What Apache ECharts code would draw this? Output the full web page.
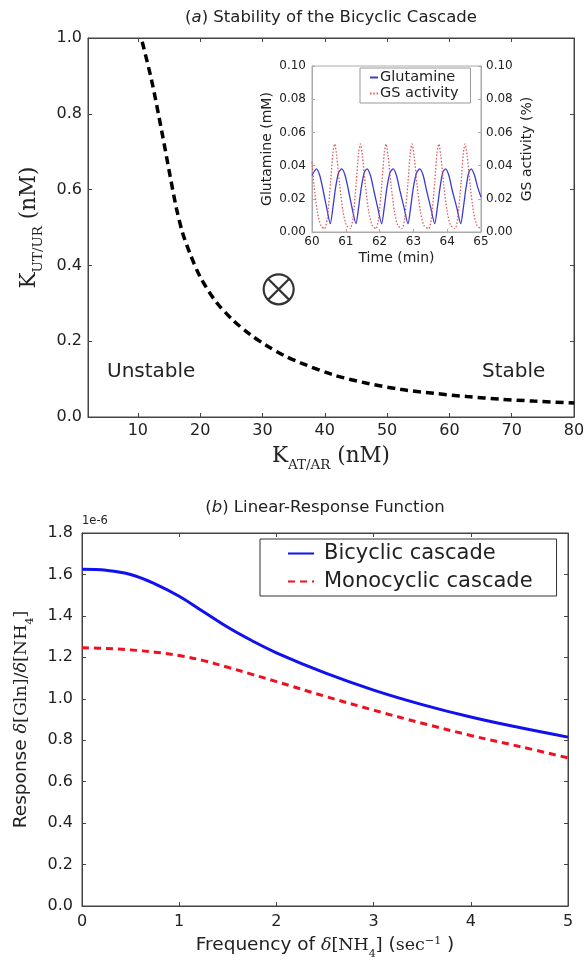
<!DOCTYPE html>
<html>
<head>
<meta charset="utf-8">
<script src="https://cdn.jsdelivr.net/npm/echarts@6/dist/echarts.min.js"></script>
<style>
  html, body { margin: 0; padding: 0; background: #fff; }
  #main { width: 588px; height: 965px; }
</style>
</head>
<body>
<div id="main"></div>
<script>
// (a) stability boundary
const kAT = [10.7, 12.2, 13.8, 15.2, 16.2, 17.2, 18.4, 20.0, 22.5, 25.3, 28.0, 30.7, 33.5, 36.1, 41.4, 46.8, 52.1, 57.5, 62.8, 68.2, 73.5, 80.0]
const kUT = [0.99, 0.889, 0.757, 0.634, 0.55, 0.485, 0.43, 0.37, 0.305, 0.255, 0.218, 0.188, 0.162, 0.143, 0.111, 0.089, 0.073, 0.0625, 0.054, 0.047, 0.042, 0.037]
const markPoint = [32.6, 0.337]
const kATTicks = [10, 20, 30, 40, 50, 60, 70, 80]

// inset: oscillations
const glnTime = [60.00, 60.13, 60.23, 60.33, 60.43, 60.54, 60.62, 60.70, 60.79, 60.88,
  60.98, 61.08, 61.18, 61.30, 61.38, 61.46, 61.55, 61.63,
  61.73, 61.83, 61.94, 62.06, 62.14, 62.22, 62.31, 62.40,
  62.50, 62.60, 62.72, 62.84, 62.92, 63.00, 63.10, 63.19,
  63.29, 63.39, 63.51, 63.63, 63.71, 63.79, 63.87, 63.95,
  64.05, 64.15, 64.28, 64.40, 64.48, 64.56, 64.64, 64.71,
  64.81, 64.90, 65.00]
const glnValue = [0.034, 0.038, 0.034, 0.025, 0.015, 0.005, 0.015, 0.027, 0.036, 0.038,
  0.034, 0.025, 0.015, 0.005, 0.015, 0.027, 0.036, 0.038,
  0.034, 0.025, 0.015, 0.005, 0.015, 0.027, 0.036, 0.038,
  0.034, 0.025, 0.015, 0.005, 0.015, 0.027, 0.036, 0.038,
  0.034, 0.025, 0.015, 0.005, 0.015, 0.027, 0.036, 0.038,
  0.034, 0.025, 0.015, 0.005, 0.015, 0.027, 0.036, 0.038,
  0.034, 0.027, 0.021]
const gsTime = [60.00, 60.06, 60.16, 60.26,
  60.37, 60.45, 60.55, 60.62, 60.67, 60.73, 60.82, 60.92, 61.02,
  61.13, 61.21, 61.31, 61.38, 61.43, 61.49, 61.58, 61.68, 61.78,
  61.89, 61.97, 62.07, 62.14, 62.19, 62.25, 62.34, 62.44, 62.54,
  62.66, 62.74, 62.84, 62.91, 62.96, 63.02, 63.11, 63.21, 63.31,
  63.45, 63.53, 63.63, 63.70, 63.75, 63.81, 63.90, 64.00, 64.10,
  64.23, 64.31, 64.41, 64.48, 64.53, 64.59, 64.68, 64.78, 64.88, 65.00]
const gsValue = [0.042, 0.028, 0.012, 0.004,
  0.002, 0.008, 0.030, 0.048, 0.053, 0.046, 0.028, 0.012, 0.004,
  0.002, 0.008, 0.030, 0.048, 0.053, 0.046, 0.028, 0.012, 0.004,
  0.002, 0.008, 0.030, 0.048, 0.053, 0.046, 0.028, 0.012, 0.004,
  0.002, 0.008, 0.030, 0.048, 0.053, 0.046, 0.028, 0.012, 0.004,
  0.002, 0.008, 0.030, 0.048, 0.053, 0.046, 0.028, 0.012, 0.004,
  0.002, 0.008, 0.030, 0.048, 0.053, 0.046, 0.028, 0.012, 0.004, 0.002]

// (b) linear response, in units of 1e-6
const freq = [0, 0.25, 0.5, 0.75, 1.0, 1.25, 1.5, 1.75, 2.0, 2.5, 3.0, 3.5, 4.0, 4.5, 5.0]
const bicyclic = [1.625, 1.620, 1.600, 1.555, 1.495, 1.420, 1.345, 1.280, 1.222, 1.125, 1.042, 0.972, 0.912, 0.861, 0.815]
const monocyclic = [1.246, 1.243, 1.236, 1.225, 1.209, 1.184, 1.152, 1.118, 1.083, 1.012, 0.945, 0.882, 0.823, 0.770, 0.715]

const SANS = 'DejaVu Sans'
const SERIF = 'DejaVu Serif'
const AXIS = '#444'
const TXT = '#222'

const zip = (a, b) => a.map((v, i) => [v, b[i]])

function valueAxis(opt) {
  const base = {
    type: 'value',
    splitLine: { show: false },
    axisLine: { show: true, onZero: false, lineStyle: { color: AXIS, width: 1 } },
    axisTick: { show: true, inside: true, length: 4, lineStyle: { color: AXIS } },
    axisLabel: { color: TXT, fontFamily: SANS, fontSize: 16 }
  }
  for (const k in opt) {
    if (base[k] && typeof base[k] === 'object' && !Array.isArray(base[k])) {
      base[k] = Object.assign({}, base[k], opt[k])
    } else {
      base[k] = opt[k]
    }
  }
  return base
}

const serifRich = {
  k: { fontFamily: SERIF, fontSize: 21.5, color: TXT, lineHeight: 27, verticalAlign: 'top' },
  sub: { fontFamily: SERIF, fontSize: 13.5, color: TXT, lineHeight: 13, verticalAlign: 'bottom' }
}
const mixRich = {
  s: { fontFamily: SANS, fontSize: 18.5, color: TXT, lineHeight: 24, verticalAlign: 'top' },
  m: { fontFamily: SERIF, fontSize: 17.5, color: TXT, lineHeight: 24, verticalAlign: 'top' },
  mi: { fontFamily: SERIF, fontSize: 17.5, fontStyle: 'italic', color: TXT, lineHeight: 24, verticalAlign: 'top' },
  sub: { fontFamily: SERIF, fontSize: 11, color: TXT, lineHeight: 11, verticalAlign: 'bottom' },
  sup: { fontFamily: SERIF, fontSize: 11, color: TXT, lineHeight: 11, verticalAlign: 'top' }
}

const option = {
  animation: false,
  backgroundColor: '#fff',
  grid: [
    { left: 88, top: 38, width: 486, height: 379, show: true, borderColor: AXIS, borderWidth: 1, backgroundColor: 'transparent' },
    { left: 312, top: 66, width: 169, height: 166, show: true, borderColor: '#aaa', borderWidth: 1, backgroundColor: '#fff' },
    { left: 82, top: 533, width: 486, height: 373, show: true, borderColor: AXIS, borderWidth: 1, backgroundColor: 'transparent' }
  ],
  xAxis: [
    valueAxis({
      gridIndex: 0, min: 2, max: 80,
      axisTick: { customValues: kATTicks },
      axisLabel: { customValues: kATTicks, margin: 6 },
      name: '{k|K}{sub|AT/AR}{k| (nM)}', nameLocation: 'middle', nameGap: 28,
      nameTextStyle: { rich: serifRich }
    }),
    valueAxis({
      gridIndex: 0, min: 2, max: 80, position: 'top',
      axisTick: { customValues: kATTicks },
      axisLabel: { show: false }
    }),
    valueAxis({
      gridIndex: 1, min: 60, max: 65, interval: 1,
      axisLine: { lineStyle: { color: '#aaa' } },
      axisTick: { length: 3, lineStyle: { color: '#aaa' } },
      axisLabel: { fontSize: 12, margin: 4 },
      name: 'Time (min)', nameLocation: 'middle', nameGap: 19,
      nameTextStyle: { fontFamily: SANS, fontSize: 14, color: TXT }
    }),
    valueAxis({
      gridIndex: 2, min: 0, max: 5, interval: 1,
      axisLabel: { margin: 8 },
      name: '{s|Frequency of }{mi|δ}{m|[NH}{sub|4}{m|]}{s| (}{m|sec}{sup|−1}{s| )}',
      nameLocation: 'middle', nameGap: 30,
      nameTextStyle: { rich: mixRich }
    }),
    valueAxis({
      gridIndex: 2, min: 0, max: 5, interval: 1, position: 'top',
      axisLabel: { show: false }
    })
  ],
  yAxis: [
    valueAxis({
      gridIndex: 0, min: 0, max: 1, interval: 0.2,
      axisLabel: { formatter: v => v.toFixed(1), margin: 6 },
      name: '{k|K}{sub|UT/UR}{k| (nM)}', nameLocation: 'middle', nameGap: 42,
      nameTextStyle: { rich: serifRich }
    }),
    valueAxis({
      gridIndex: 0, min: 0, max: 1, interval: 0.2, position: 'right',
      axisLabel: { show: false }
    }),
    valueAxis({
      gridIndex: 1, min: 0, max: 0.1, interval: 0.02,
      axisLine: { lineStyle: { color: '#aaa' } },
      axisTick: { length: 3, lineStyle: { color: '#aaa' } },
      axisLabel: { fontSize: 12, margin: 6, formatter: v => v.toFixed(2) },
      name: 'Glutamine (mM)', nameLocation: 'middle', nameGap: 38,
      nameTextStyle: { fontFamily: SANS, fontSize: 14, color: TXT }
    }),
    valueAxis({
      gridIndex: 1, min: 0, max: 0.1, interval: 0.02, position: 'right',
      axisLine: { lineStyle: { color: '#aaa' } },
      axisTick: { length: 3, lineStyle: { color: '#aaa' } },
      axisLabel: { fontSize: 12, margin: 5, formatter: v => v.toFixed(2) },
      name: 'GS activity (%)', nameLocation: 'middle', nameGap: 39,
      nameTextStyle: { fontFamily: SANS, fontSize: 14, color: TXT }
    }),
    valueAxis({
      gridIndex: 2, min: 0, max: 1.8, interval: 0.2,
      axisLabel: { formatter: v => v.toFixed(1), margin: 9 },
      name: '{s|Response }{mi|δ}{m|[Gln]/}{mi|δ}{m|[NH}{sub|4}{m|]}',
      nameLocation: 'middle', nameGap: 46,
      nameTextStyle: { rich: mixRich }
    }),
    valueAxis({
      gridIndex: 2, min: 0, max: 1.8, interval: 0.2, position: 'right',
      axisLabel: { show: false }
    })
  ],
  legend: [
    {
      data: ['Glutamine', 'GS activity'],
      orient: 'vertical', left: 360, top: 68,
      itemWidth: 8, itemHeight: 2, itemGap: 1,
      padding: [2, 12, 2, 9],
      borderColor: '#999', borderWidth: 1, backgroundColor: '#fff',
      itemStyle: { opacity: 0 },
      textStyle: { fontFamily: SANS, fontSize: 14.5, color: TXT, padding: [0, 0, 0, -3] }
    },
    {
      data: ['Bicyclic cascade', 'Monocyclic cascade'],
      orient: 'vertical', left: 260, top: 539,
      itemWidth: 26, itemHeight: 14, itemGap: 7,
      padding: [4, 24, 4, 27],
      borderColor: '#333', borderWidth: 1, backgroundColor: '#fff',
      itemStyle: { opacity: 0 },
      textStyle: { fontFamily: SANS, fontSize: 21, color: TXT, padding: [0, 0, 0, 5] }
    }
  ],
  series: [
    {
      name: 'boundary', type: 'line', xAxisIndex: 0, yAxisIndex: 0,
      data: zip(kAT, kUT), symbol: 'none', smooth: 0.3,
      lineStyle: { color: '#000', width: 3.5, type: [8, 5] }
    },
    {
      name: 'test point', type: 'scatter', xAxisIndex: 0, yAxisIndex: 0,
      data: [markPoint], symbolSize: 30, symbolKeepAspect: true,
      symbol: 'path://M0,50A50,50,0,1,1,100,50A50,50,0,1,1,0,50ZM14.6,14.6L85.4,85.4M85.4,14.6L14.6,85.4',
      itemStyle: { color: 'rgba(0,0,0,0)', borderColor: '#000', borderWidth: 2.2 }
    },
    {
      name: 'Glutamine', type: 'line', xAxisIndex: 2, yAxisIndex: 2,
      data: zip(glnTime, glnValue), symbol: 'none', smooth: 0.25,
      itemStyle: { color: '#3b3bd0' },
      lineStyle: { color: '#3b3bd0', width: 1.3 }
    },
    {
      name: 'GS activity', type: 'line', xAxisIndex: 2, yAxisIndex: 3,
      data: zip(gsTime, gsValue), symbol: 'none', smooth: 0.25,
      itemStyle: { color: '#e25a5a' },
      lineStyle: { color: '#e25a5a', width: 1.3, type: [1.5, 1.8] }
    },
    {
      name: 'Bicyclic cascade', type: 'line', xAxisIndex: 3, yAxisIndex: 4,
      data: zip(freq, bicyclic), symbol: 'none', smooth: 0.4,
      itemStyle: { color: '#1010f0' },
      lineStyle: { color: '#1010f0', width: 3 }
    },
    {
      name: 'Monocyclic cascade', type: 'line', xAxisIndex: 3, yAxisIndex: 4,
      data: zip(freq, monocyclic), symbol: 'none', smooth: 0.4,
      itemStyle: { color: '#ee1020' },
      lineStyle: { color: '#ee1020', width: 3, type: [7, 5] }
    }
  ],
  graphic: [
    {
      type: 'text', x: 331, y: 18,
      style: {
        text: '({i|a}) Stability of the Bicyclic Cascade',
        fontFamily: SANS, fontSize: 16.5, fill: TXT, align: 'center', verticalAlign: 'middle',
        rich: { i: { fontFamily: SANS, fontSize: 16.5, fontStyle: 'italic', fill: TXT } }
      }
    },
    {
      type: 'text', x: 325, y: 508,
      style: {
        text: '({i|b}) Linear-Response Function',
        fontFamily: SANS, fontSize: 16.5, fill: TXT, align: 'center', verticalAlign: 'middle',
        rich: { i: { fontFamily: SANS, fontSize: 16.5, fontStyle: 'italic', fill: TXT } }
      }
    },
    {
      type: 'text', x: 107, y: 372,
      style: { text: 'Unstable', fontFamily: SANS, fontSize: 20, fill: TXT, verticalAlign: 'middle' }
    },
    {
      type: 'text', x: 482, y: 372,
      style: { text: 'Stable', fontFamily: SANS, fontSize: 20, fill: TXT, verticalAlign: 'middle' }
    },
    {
      type: 'text', x: 82, y: 521,
      style: { text: '1e-6', fontFamily: SANS, fontSize: 11.5, fill: TXT, verticalAlign: 'middle' }
    }
  ]
}

const chart = echarts.init(document.getElementById('main'))
chart.setOption(option)
</script>
</body>
</html>
